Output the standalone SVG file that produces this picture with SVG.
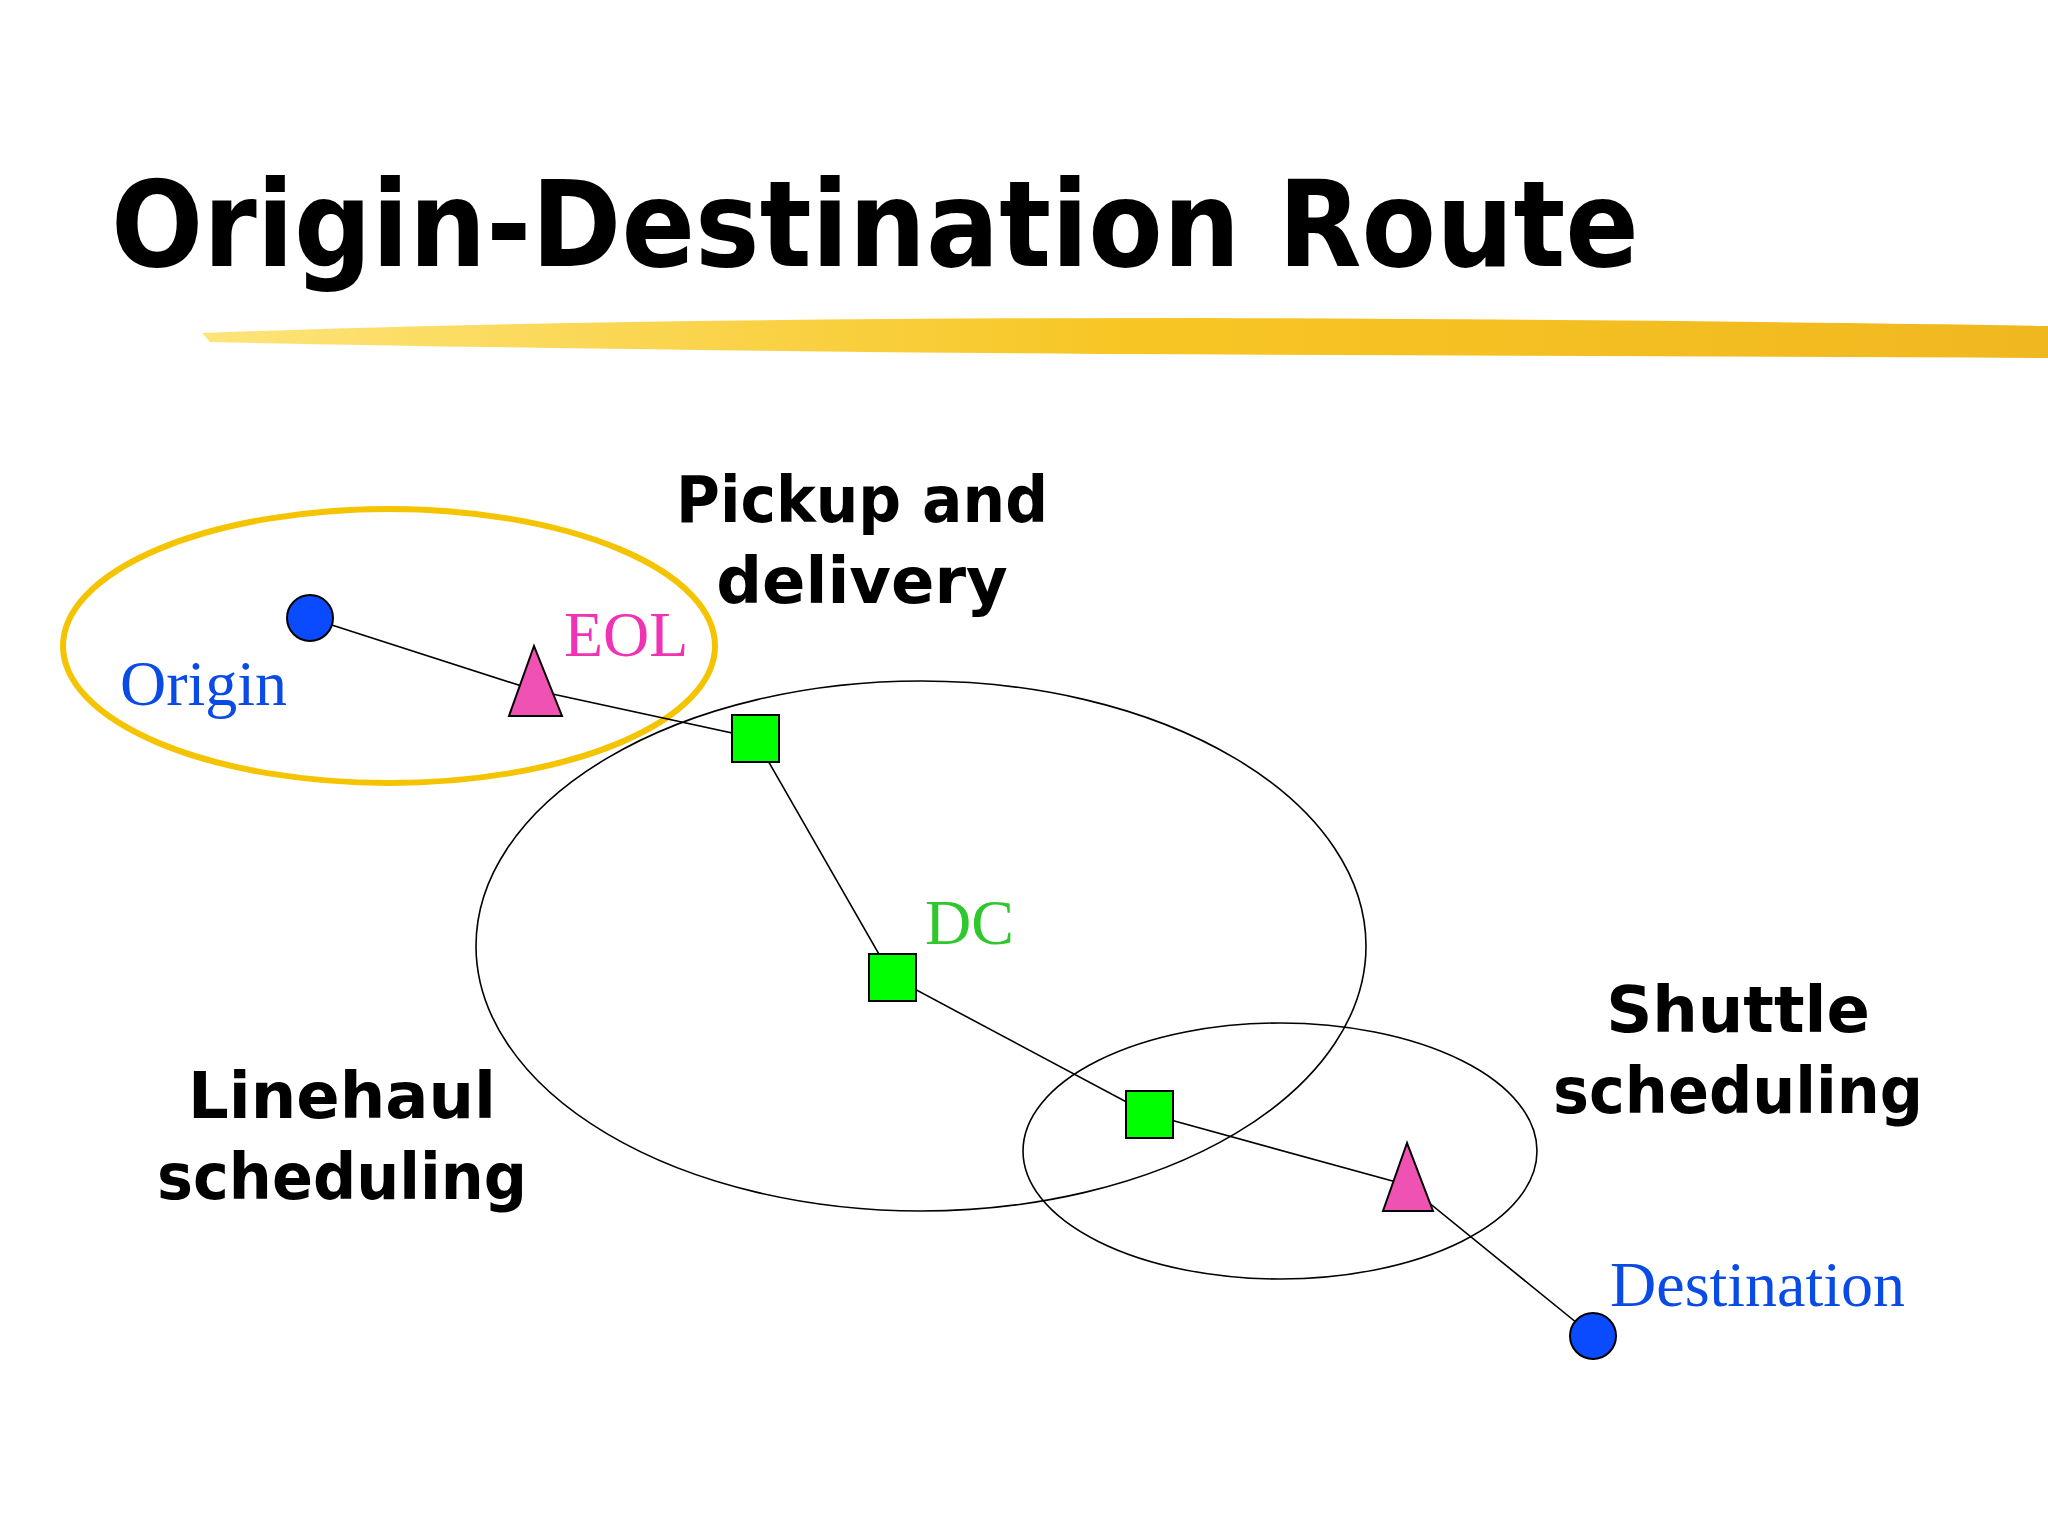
<svg xmlns="http://www.w3.org/2000/svg" width="2048" height="1534" viewBox="0 0 2048 1534">
<defs>
<linearGradient id="br" x1="0" x2="1" y1="0" y2="0">
<stop offset="0" stop-color="#fde47a"/><stop offset="0.5" stop-color="#f7c624"/><stop offset="1" stop-color="#f0b820"/>
</linearGradient>
</defs>
<style>
.b{font-family:"DejaVu Sans",Verdana,sans-serif;font-weight:bold;fill:#000;text-anchor:middle}
.s{font-family:"Liberation Serif","Times New Roman",serif;font-size:64px}
.ln{stroke:#000;stroke-width:1.6;fill:none}
.sq{fill:#00ff00;stroke:#000;stroke-width:2}
.tr{fill:#f052b4;stroke:#000;stroke-width:2}
.ci{fill:#0a4bff;stroke:#000;stroke-width:2}
</style>
<rect width="2048" height="1534" fill="#fff"/>
<path d="M202,333 Q600,318 1200,318 Q1700,320 2048,326 L2048,358 Q1600,356 1100,354 Q600,350 210,342 Z" fill="url(#br)"/>
<text id="title" x="111" y="266" class="b" style="text-anchor:start" font-size="120" textLength="1528" lengthAdjust="spacingAndGlyphs">Origin-Destination Route</text>
<g id="regions">
<ellipse cx="389" cy="646" rx="326" ry="137" fill="none" stroke="#f5c400" stroke-width="6"/>
<ellipse cx="921" cy="946" rx="445" ry="265" class="ln"/>
<ellipse cx="1280" cy="1151" rx="257" ry="128" class="ln"/>
</g>
<g id="connectors">
<polyline class="ln" points="310,618 534,690 755,738 892,977 1149,1114 1407,1185 1593,1336"/>
</g>
<g id="origin"><circle cx="310" cy="618" r="23" class="ci"/><text x="120" y="705" class="s" fill="#0a4be6">Origin</text></g>
<g id="eol"><polygon points="534,646 509,716 562,716" class="tr"/><text x="564" y="656" class="s" fill="#f032b4">EOL</text></g>
<g id="sq1"><rect x="732" y="715" width="47" height="47" class="sq"/></g>
<g id="dc"><rect x="869" y="954" width="47" height="47" class="sq"/><text x="925" y="944" class="s" fill="#2ec82e">DC</text></g>
<g id="sq3"><rect x="1126" y="1091" width="47" height="47" class="sq"/></g>
<g id="eol2"><polygon points="1407,1143 1383,1211 1433,1211" class="tr"/></g>
<g id="destination"><circle cx="1593" cy="1336" r="23" class="ci"/><text x="1610" y="1306" class="s" fill="#0a4be6">Destination</text></g>
<g id="labels" font-size="64">
<text class="b" x="862" y="522" textLength="372" lengthAdjust="spacingAndGlyphs">Pickup and</text>
<text class="b" x="862" y="603">delivery</text>
<text class="b" x="342" y="1118">Linehaul</text>
<text class="b" x="342" y="1199" textLength="370" lengthAdjust="spacingAndGlyphs">scheduling</text>
<text class="b" x="1738" y="1032">Shuttle</text>
<text class="b" x="1738" y="1113" textLength="370" lengthAdjust="spacingAndGlyphs">scheduling</text>
</g>
</svg>
